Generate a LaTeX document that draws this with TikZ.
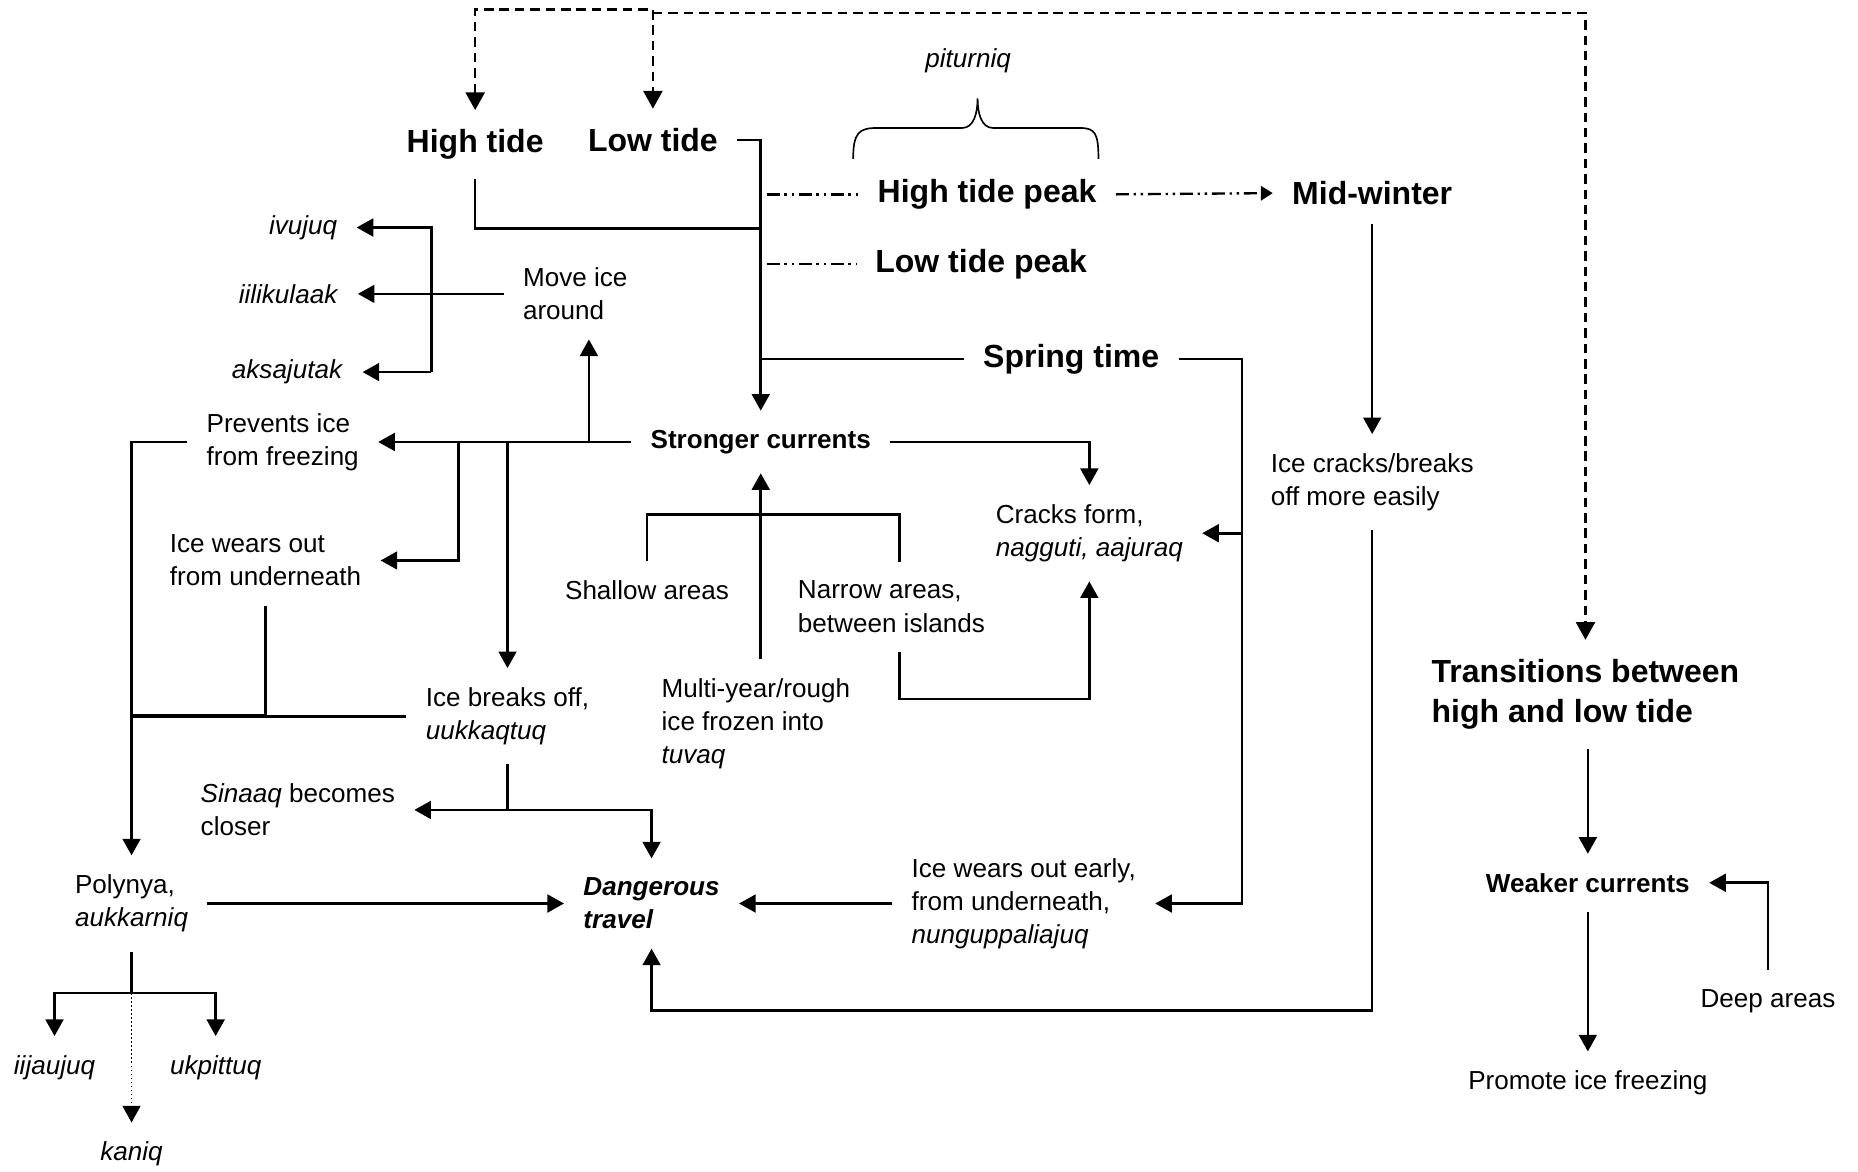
\documentclass[tikz,border=0pt]{standalone}
\usepackage{fontspec}
\setmainfont{Liberation Sans}
\usetikzlibrary{arrows.meta}
\tikzstyle{txt} = [inner sep=8pt, align=left, font=\fontsize{11}{14}\selectfont]
\tikzstyle{head} = [inner sep=8pt, align=left, font=\fontsize{13.5}{17}\selectfont\bfseries]
\tikzstyle{subhead} = [inner sep=8pt, font=\fontsize{11}{14}\selectfont\bfseries]
\tikzstyle{wire} = [line width=1.1pt]
\tikzstyle{fatwire} = [line width=1.6pt]
\tikzstyle{dashwire} = [line width=1.1pt, dash pattern=on 4pt off 2.5pt, >={Triangle[length=7.5pt,width=8pt]}]
\tikzstyle{peakwire} = [line width=1pt, dash pattern=on 5.5pt off 2pt on 1pt off 2pt on 1pt off 2pt, >={Triangle[length=5pt,width=6pt]}]
\tikzstyle{dotwire} = [line width=0.7pt, densely dotted]

\begin{document}
\begin{tikzpicture}[x=0.5pt, y=-0.5pt, >={Triangle[length=7pt,width=7.5pt]}]
\useasboundingbox (0,0) rectangle (1568,989);

\node[head] (ht) at (401,122) {High tide};
\node[head] (lt) at (551,118) {Low tide};
\node[txt, font=\fontsize{11}{14}\selectfont\itshape] (pit) at (817,51) {piturniq};
\node[head] (htp) at (833,164) {High tide peak};
\node[head] (ltp) at (828,223) {Low tide peak};
\node[head] (mw) at (1158,163) {Mid-winter};
\node[head] (sp) at (904,303) {Spring time};
\node[subhead] (sc) at (642,373) {Stronger currents};
\node[txt, right] (ic) at (1056,407) {Ice cracks/breaks\\off more easily};
\node[txt, right] (cf) at (824,450) {Cracks form,\\\textit{nagguti, aajuraq}};
\node[txt, right] (mv) at (425,248) {Move ice\\around};
\node[txt, left] (iv) at (301,192) {\textit{ivujuq}};
\node[txt, left] (il) at (302,248) {\textit{iilikulaak}};
\node[txt, left] (ak) at (306,314) {\textit{aksajutak}};
\node[txt, right] (pv) at (158,373) {Prevents ice\\from freezing};
\node[txt, right] (iu) at (127,473) {Ice wears out\\from underneath};
\node[txt, right] (ib) at (343,604.5) {Ice breaks off,\\\textit{uukkaqtuq}};
\node[txt, right] (si) at (153,683.5) {\textit{Sinaaq} becomes\\closer};
\node[txt] (sh) at (546,498) {Shallow areas};
\node[txt, right] (na) at (657,512) {Narrow areas,\\between islands};
\node[txt, right] (mt) at (542,611) {Multi-year/rough\\ice frozen into\\\textit{tuvaq}};
\node[txt] (po) at (111,762.5) {Polynya,\\\textit{aukkarniq}};
\node[txt, right] (dt) at (476,762.5) {\textbf{\textit{Dangerous}}\\\textbf{\textit{travel}}};
\node[txt, right] (iw) at (753,762.5) {Ice wears out early,\\from underneath,\\\textit{nunguppaliajuq}};
\node[txt] (ij) at (46,901) {\textit{iijaujuq}};
\node[txt] (uk) at (182,901) {\textit{ukpittuq}};
\node[txt] (ka) at (111,974) {\textit{kaniq}};
\node[head] (tr) at (1338,586) {Transitions between\\high and low tide};
\node[subhead] (wc) at (1340,745) {Weaker currents};
\node[txt] (pr) at (1340,914) {Promote ice freezing};
\node[txt] (dp) at (1492,845) {Deep areas};

\coordinate (top) at (0,8);
\coordinate (topr) at (0,11);
\coordinate (hjoin) at (642,193);
\coordinate (dd) at (647,0);
\coordinate (spx) at (1048,0);
\coordinate (bot) at (0,853);
\coordinate (xmv) at (497,0);
\coordinate (xiw) at (387,0);
\coordinate (xiv) at (364,0);
\coordinate (brk) at (0,434);
\coordinate (xna) at (759,0);
\coordinate (nbot) at (0,590);
\coordinate (pj) at (0,838);

\draw[dashwire,<->] (ht.north) |- (lt.north |- top) -- (lt.north);
\draw[dashwire,->] (lt.north |- topr) -| (tr.north);
\draw[wire,->] (lt.east) -| (sc.north);
\draw[wire] (ht.south) |- (hjoin);
\draw[peakwire] (dd |- htp.west) -- (htp.west);
\draw[peakwire,->] (htp.east) -- (mw.west);
\draw[peakwire] (dd |- ltp.west) -- (ltp.west);
\draw[line width=0.7pt] (720,134) .. controls (720,112) and (725,108) .. (740,108) -- (812,108) .. controls (822,108) and (825,95) .. (825,83) .. controls (825,95) and (828,108) .. (838,108) -- (911,108) .. controls (924,108) and (927,112) .. (927,134);
\draw[wire] (hjoin |- sp.west) -- (sp.west);
\draw[wire,->] (sp.east) -| (spx |- iw.east) -- (iw.east);
\draw[wire,->] (spx |- cf.east) -- (cf.east);
\draw[wire,->] (mw.south) -- (mw.south |- ic.north);
\draw[wire,->] (ic.south) |- (dt.south |- bot) -- (dt.south);

\draw[wire,->] (sc.west) -- (pv.east);
\draw[wire,->] (xmv |- sc.west) -- (xmv |- mv.south);
\draw[wire,->] (xiw |- sc.west) |- (iu.east);
\draw[wire,->] (ib.north |- sc.west) -- (ib.north);
\draw[wire,->] (sc.east) -| (cf.north);
\draw[wire,->] (mt.north -| sc.south) -- (sc.south);
\draw[wire] (sh.north) |- (xna |- brk) -- (xna |- na.north);
\draw[wire,->] (xna |- na.south) |- (cf.south |- nbot) -- (cf.south);

\draw[wire,->] (mv.west) -- (il.east);
\draw[wire,->] (xiv |- ak.east) |- (iv.east);
\draw[wire,->] (xiv |- ak.east) -- (ak.east);

\draw[wire,->] (pv.west) -| (po.north);
\draw[fatwire] (iu.south |- ib.west) -- (po.north |- ib.west);
\draw[wire] (iu.south) -- (iu.south |- ib.west) -- (ib.west);
\draw[wire,->] (ib.south) |- (si.east);
\draw[wire,->] (ib.south |- si.east) -| (dt.north);
\draw[wire,->] (po.east) -- (dt.west);
\draw[wire,->] (iw.west) -- (dt.east);
\draw[wire] (po.south) -- (po.south |- pj);
\draw[wire,->] (po.south |- pj) -| (ij.north);
\draw[wire,->] (po.south |- pj) -| (uk.north);
\draw[dotwire,->] (po.south |- pj) -- (ka.north);

\draw[wire,->] (tr.south -| wc.north) -- (wc.north);
\draw[wire,->] (wc.south) -- (pr.north);
\draw[wire,->] (dp.north) |- (wc.east);
\end{tikzpicture}
\end{document}
